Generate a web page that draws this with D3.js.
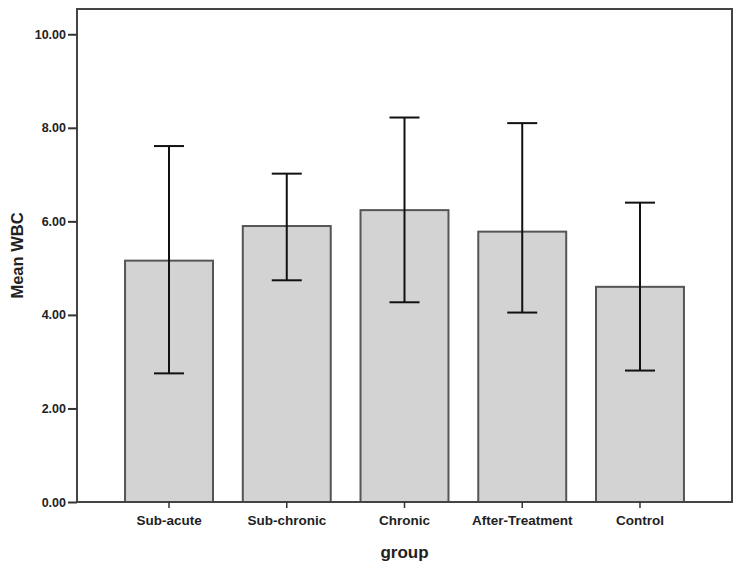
<!DOCTYPE html>
<html>
<head>
<meta charset="utf-8">
<script src="https://cdn.jsdelivr.net/npm/d3@7"></script>
<style>
  body { margin: 0; background: #fff; }
  svg { display: block; }
  text { font-family: "Liberation Sans", Arial, sans-serif; font-weight: bold; fill: #222; }
</style>
</head>
<body>
<div id="chart"></div>
<script>
// data
const groups = ["Sub-acute", "Sub-chronic", "Chronic", "After-Treatment", "Control"];
const means = [5.16, 5.90, 6.24, 5.78, 4.60];
const upper = [7.61, 7.02, 8.22, 8.10, 6.40];
const lower = [2.75, 4.74, 4.27, 4.05, 2.81];
const yTicks = [0, 2, 4, 6, 8, 10];

const width = 744, height = 568;
const margin = { top: 9, right: 12, bottom: 66, left: 77 };
const plotW = width - margin.left - margin.right;
const plotH = height - margin.top - margin.bottom;

const svg = d3.select("#chart").append("svg")
  .attr("width", width)
  .attr("height", height);

const g = svg.append("g").attr("transform", "translate(" + margin.left + "," + margin.top + ")");

let x = d3.scaleBand().domain(groups).range([0, plotW]).paddingInner(0.253).paddingOuter(0.408);
let y = d3.scaleLinear().domain([0, 10.54]).range([plotH, 0]);

// bars
g.selectAll(".bar").data(groups).enter().append("rect")
  .attr("class", "bar")
  .attr("x", d => x(d))
  .attr("width", x.bandwidth())
  .attr("y", (d, i) => y(means[i]))
  .attr("height", (d, i) => plotH - y(means[i]))
  .attr("fill", "#d3d3d3")
  .attr("stroke", "#555")
  .attr("stroke-width", 2);

// error bars
const capW = 30;
const err = g.selectAll(".err").data(groups).enter().append("g").attr("class", "err");
err.append("line")
  .attr("x1", d => x(d) + x.bandwidth() / 2)
  .attr("x2", d => x(d) + x.bandwidth() / 2)
  .attr("y1", (d, i) => y(lower[i]))
  .attr("y2", (d, i) => y(upper[i]))
  .attr("stroke", "#111").attr("stroke-width", 2);
err.append("line")
  .attr("x1", d => x(d) + x.bandwidth() / 2 - capW / 2)
  .attr("x2", d => x(d) + x.bandwidth() / 2 + capW / 2)
  .attr("y1", (d, i) => y(upper[i]))
  .attr("y2", (d, i) => y(upper[i]))
  .attr("stroke", "#111").attr("stroke-width", 2);
err.append("line")
  .attr("x1", d => x(d) + x.bandwidth() / 2 - capW / 2)
  .attr("x2", d => x(d) + x.bandwidth() / 2 + capW / 2)
  .attr("y1", (d, i) => y(lower[i]))
  .attr("y2", (d, i) => y(lower[i]))
  .attr("stroke", "#111").attr("stroke-width", 2);

// frame
g.append("rect")
  .attr("x", 0).attr("y", 0)
  .attr("width", plotW).attr("height", plotH)
  .attr("fill", "none")
  .attr("stroke", "#444")
  .attr("stroke-width", 2);

// y axis
const yAxis = g.append("g")
  .call(d3.axisLeft(y).tickValues(yTicks).tickFormat(d3.format(".2f")).tickSize(9).tickPadding(2));
yAxis.select(".domain").remove();
yAxis.selectAll("line").attr("stroke", "#333").attr("stroke-width", 2);
yAxis.selectAll("text").attr("font-size", 12.5).attr("font-weight", "bold").attr("fill", "#222")
  .style("font-family", "'Liberation Sans', Arial, sans-serif");

// x axis
const xAxis = g.append("g")
  .attr("transform", "translate(0," + plotH + ")")
  .call(d3.axisBottom(x).tickSize(6).tickPadding(7));
xAxis.select(".domain").remove();
xAxis.selectAll("line").attr("stroke", "#333").attr("stroke-width", 1.5);
xAxis.selectAll("text").attr("font-size", 13.5).attr("font-weight", "bold").attr("fill", "#222")
  .style("font-family", "'Liberation Sans', Arial, sans-serif");

// axis titles
svg.append("text")
  .attr("transform", "translate(23," + (margin.top + plotH / 2) + ") rotate(-90)")
  .attr("text-anchor", "middle")
  .attr("font-size", 16.5)
  .text("Mean WBC");

svg.append("text")
  .attr("x", margin.left + plotW / 2)
  .attr("y", 558)
  .attr("text-anchor", "middle")
  .attr("font-size", 17)
  .text("group");
</script>
</body>
</html>
